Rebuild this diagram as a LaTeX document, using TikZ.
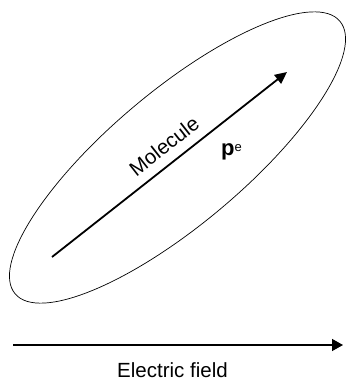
\documentclass[tikz,border=0pt]{standalone}
\usepackage{fontspec}
\setmainfont{Liberation Sans}
\usetikzlibrary{arrows.meta}
\begin{document}
\begin{tikzpicture}[x=1pt,y=-1pt,
  outline/.style={line width=0.7pt},
  vec/.style={line width=1.8pt,-{Triangle[length=12pt,width=11pt]}},
  fieldvec/.style={line width=1.4pt,-{Triangle[length=11pt,width=12pt]}},
  lbl/.style={font=\fontsize{20.5}{24}\selectfont, inner sep=0pt}]
\useasboundingbox (0,0) rectangle (346,380);
\draw[outline, rotate around={40:(177.5,157.5)}] (177.5,157.5) ellipse [x radius=212pt, y radius=67pt];
\coordinate (mstart) at (52,257);
\coordinate (mend) at (287,72);
\draw[vec] (mstart) -- (mend);
\node[lbl, rotate=38.2] (mol) at (164,146) {Molecule};
\node[inner sep=0pt, anchor=base west] (pe) at (221,155) {\fontsize{22}{25}\selectfont\bfseries p\raisebox{3.5pt}{\fontsize{13}{15}\selectfont\mdseries e}};
\coordinate (fstart) at (13,345);
\coordinate (fend) at (343,345);
\draw[fieldvec] (fstart) -- (fend);
\node[lbl, anchor=base] (field) at (172.5,377) {Electric field};
\end{tikzpicture}
\end{document}
